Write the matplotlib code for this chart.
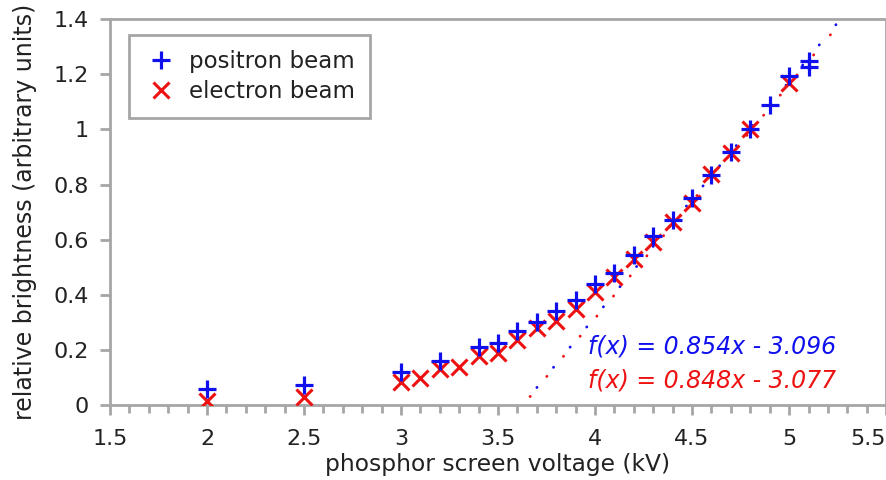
import numpy as np
import matplotlib
matplotlib.use("Agg")
import matplotlib.pyplot as plt
from matplotlib.ticker import MultipleLocator

# positron beam (blue +)
pos_x = [2.0, 2.5, 3.0, 3.2, 3.4, 3.5, 3.6, 3.7, 3.8, 3.9, 4.0, 4.1, 4.2,
         4.3, 4.4, 4.5, 4.6, 4.7, 4.8, 4.9, 5.0, 5.1, 5.1]
pos_y = [0.058, 0.072, 0.12, 0.16, 0.21, 0.225, 0.27, 0.30, 0.34, 0.38, 0.44,
         0.48, 0.545, 0.615, 0.67, 0.752, 0.834, 0.918, 1.003, 1.09, 1.195,
         1.225, 1.248]

# electron beam (red x)
ele_x = [2.0, 2.5, 3.0, 3.1, 3.2, 3.3, 3.4, 3.5, 3.6, 3.7, 3.8, 3.9, 4.0,
         4.1, 4.2, 4.3, 4.4, 4.5, 4.6, 4.7, 4.8, 5.0]
ele_y = [0.015, 0.03, 0.085, 0.10, 0.13, 0.14, 0.18, 0.19, 0.235, 0.28, 0.305,
         0.35, 0.41, 0.465, 0.53, 0.59, 0.665, 0.735, 0.84, 0.914, 1.0, 1.168]

# linear fits: slope, intercept, first x drawn
pos_fit = (0.854, -3.096, 3.70)
ele_fit = (0.848, -3.077, 3.665)

xticks = [1.5, 2, 2.5, 3, 3.5, 4, 4.5, 5, 5.5]
xticklabels = ["1.5", "2", "2.5", "3", "3.5", "4", "4.5", "5", "5.5"]
yticks = [0, 0.2, 0.4, 0.6, 0.8, 1.0, 1.2, 1.4]
yticklabels = ["0", "0.2", "0.4", "0.6", "0.8", "1", "1.2", "1.4"]

BLUE = "#1010ee"
RED = "#ee1111"
GRAY = "#a6a6a6"
TXT = "#222222"

plt.rcParams["font.family"] = ["DejaVu Sans"]

fig = plt.figure(figsize=(8.87, 4.8), dpi=100)
ax = fig.add_axes([0.124, 0.156, 0.875, 0.804])

for (k, b, x0), c in [(pos_fit, BLUE), (ele_fit, RED)]:
    x1 = (1.42 - b) / k
    xf = np.linspace(x0, x1, 100)
    ax.plot(xf, k * xf + b, color=c, lw=2.0, linestyle=(0, (0.1, 9.3)),
            dash_capstyle="round", zorder=2)

ax.plot(pos_x, pos_y, "+", color=BLUE, ms=13.5, mew=2.3, label="positron beam",
        zorder=4)
ax.plot(ele_x, ele_y, "x", color=RED, ms=11, mew=2.2, label="electron beam",
        zorder=3)

ax.text(3.965, 0.214, "f(x) = 0.854x - 3.096", color=BLUE, fontsize=17,
        style="italic", va="center", ha="left")
ax.text(3.965, 0.09, "f(x) = 0.848x - 3.077", color=RED, fontsize=17,
        style="italic", va="center", ha="left")

ax.set_xlim(1.5, 5.5)
ax.set_ylim(0, 1.4)
ax.xaxis.set_minor_locator(MultipleLocator(0.1))
ax.set_xticks(xticks)
ax.set_xticklabels(xticklabels)
ax.set_yticks(yticks)
ax.set_yticklabels(yticklabels)
# last x label pushed inside the canvas like in the original
ax.get_xticklabels()[-1].set_horizontalalignment("right")

for s in ax.spines.values():
    s.set_color(GRAY)
    s.set_linewidth(2)
ax.tick_params(which="both", direction="out", color=GRAY, width=2,
               labelcolor=TXT, labelsize=16, top=False, right=False)
ax.tick_params(which="major", length=7)
ax.tick_params(which="minor", length=6)
ax.tick_params(axis="x", which="major", pad=10)
ax.tick_params(axis="y", which="major", pad=8)

ax.set_xlabel("phosphor screen voltage (kV)", fontsize=16.8, color=TXT,
              labelpad=3)
ax.set_ylabel("relative brightness (arbitrary units)", fontsize=17,
              color=TXT, labelpad=12)

leg = ax.legend(loc="upper left", bbox_to_anchor=(0.024, 0.958),
                fontsize=16.5, fancybox=False, framealpha=1, edgecolor=GRAY,
                handlelength=1.5, handletextpad=0.5, borderpad=0.65,
                labelspacing=0.3, borderaxespad=0)
leg.get_frame().set_linewidth(2)
for t in leg.get_texts():
    t.set_color(TXT)

fig.savefig("out.png", dpi=100)
